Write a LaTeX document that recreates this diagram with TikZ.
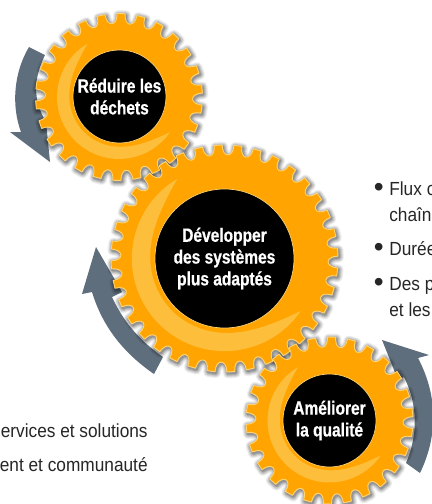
\documentclass[tikz,border=0pt]{standalone}
\usepackage{fontspec}
\setmainfont[FakeStretch=0.91]{Liberation Sans}
\newfontfamily\labelfont[FakeStretch=0.81,FakeBold=0.6]{Liberation Sans Bold}
\newfontfamily\bulletfont{Liberation Sans}
\newcommand{\puce}{\makebox[15.5\pxu][l]{\raisebox{-0.9pt}{\bulletfont\fontsize{16pt}{16pt}\selectfont •}}}
\newlength{\pxu}
\setlength{\pxu}{0.02cm}
\definecolor{gearorange}{HTML}{FFA400}
\definecolor{gearlight}{HTML}{FDBE3B}
\definecolor{gearedge}{HTML}{FFD470}
\definecolor{arrowgrey}{HTML}{5F6E7C}
% sizes of the teeth: outer radius, teeth
\newcommand{\reglage}[2]{
  \pgfmathsetmacro{\pas}{360/#2}
  \pgfmathsetmacro{\lar}{\pas*0.2}
  \pgfmathsetmacro{\fond}{#1-13}
}
% outline of a gear: outer radius, teeth, turn
\newcommand{\dents}[3]{
  (#3-\lar:#1) \foreach \i [evaluate=\i as \a using \i*\pas+#3] in {1,...,#2} {
    -- (\a-\pas+\lar:#1) .. controls (\a-\pas+\lar:\fond) and (\a-\lar:\fond) .. (\a-\lar:#1)} -- cycle
}
% soft shadow of a gear: x, y, outer radius, teeth, turn
\newcommand{\gearshadow}[5]{
  \reglage{#3}{#4}
  \foreach \w/\o in {10/0.06,8/0.08,6/0.1,4/0.12,2/0.15}
    \draw[shift={(#1,#2)},xshift=1\pxu,yshift=-1.5\pxu,black,opacity=\o,line width=\w\pxu,line join=round] \dents{#3}{#4}{#5};
}
% one gear: x, y, outer radius, teeth, turn, hub radius
\newcommand{\gear}[6]{
  \reglage{#3}{#4}
  \pgfmathsetmacro{\rext}{1.333*#6}
  \pgfmathsetmacro{\rint}{1.065*#6}
  \draw[shift={(#1,#2)},fill=gearorange,draw=gearedge,line width=0.5pt,line join=round] \dents{#3}{#4}{#5};
  \fill[shift={(#1,#2)},gearlight] plot[domain=34.5:239.4,samples=30,smooth] (\x:\rext)
    -- plot[domain=239.4:34.5,samples=60,smooth] (\x:{\rint+(\rext-\rint)*pow(abs(\x-136.95)/102.45,5)}) -- cycle;
}
\begin{document}
\begin{tikzpicture}[x=0.02cm,y=-0.02cm,
  hub/.style = {draw=gearedge,fill=black,circle,inner sep=0pt,line width=0.4pt,text=white,align=center,font=\labelfont\fontsize{10.9pt}{12.4pt}\selectfont},
  body/.style = {inner sep=0pt,text=black!85,font=\fontsize{10.8pt}{10.8pt}\selectfont},
  fleche/.style = {fill=arrowgrey}]
  \useasboundingbox (0,0) rectangle (432,504);
  % arrows behind the gears
  \fill[fleche] (29,47) .. controls (14,72) and (11,105) .. (21,132) -- (10,132) -- (50,162) -- (46,122) .. controls (33,100) and (33,80) .. (45,55) -- cycle;
  \fill[fleche] (154,374) .. controls (122,352) and (102,325) .. (92,292) -- (82,294) -- (96,247) -- (122,292) -- (112,297) .. controls (125,325) and (142,342) .. (163,357) -- cycle;
  \fill[fleche] (420,473) .. controls (436,440) and (440,400) .. (418,358) -- (429,355) -- (382,340) -- (398,380) -- (404,377) .. controls (418,405) and (418,435) .. (406,463) -- cycle;
  \gearshadow{119}{97}{83.5}{26}{8.35}
  \gearshadow{224.5}{258.5}{113.5}{36}{-3.2}
  \gearshadow{329.5}{420.5}{83.5}{26}{8.35}
  \gear{119}{97}{83.5}{26}{8.35}{46.5}
  \gear{224.5}{258.5}{113.5}{36}{-3.2}{69.5}
  \gear{329.5}{420.5}{83.5}{26}{8.35}{46.5}
  \node[hub,minimum size=93\pxu] (reduire) at (119.5,96.5) {Réduire les\\déchets};
  \node[hub,minimum size=139\pxu] (developper) at (224.5,258.5) {Développer\\des systèmes\\plus adaptés};
  \node[hub,minimum size=93\pxu] (ameliorer) at (329.5,420.5) {Améliorer\\la qualité};
  % text cut by the page edge
  \node[body,anchor=base west] (flux) at (373.5,195) {\puce Flux c};
  \node[body,anchor=base west] (chaine) at (389,221) {chaîne};
  \node[body,anchor=base west] (duree) at (373.5,255) {\puce Durée};
  \node[body,anchor=base west] (des) at (373.5,290) {\puce Des p};
  \node[body,anchor=base west] (etles) at (389,316) {et les};
  \node[body,anchor=base east] (services) at (148,437) {ervices et solutions};
  \node[body,anchor=base east] (communaute) at (148,471) {ent et communauté};
\end{tikzpicture}
\end{document}
